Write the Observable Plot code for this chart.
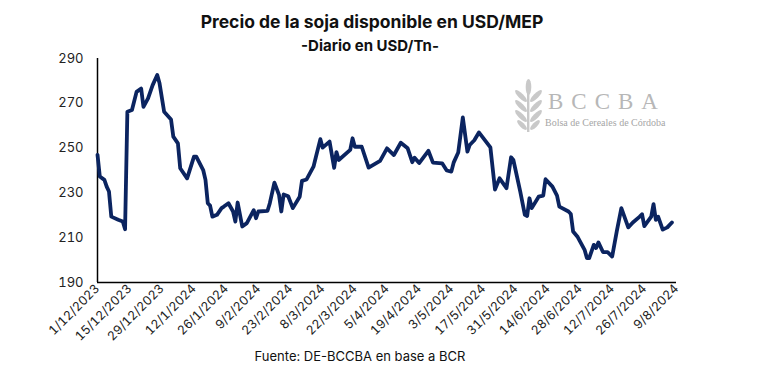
<!DOCTYPE html>
<html>
<head>
<meta charset="utf-8">
<script src="https://cdn.jsdelivr.net/npm/d3@7"></script>
<script src="https://cdn.jsdelivr.net/npm/@observablehq/plot@0.6"></script>
<style>
  html, body { margin: 0; padding: 0; background: #fff; }
  #wrap { position: relative; width: 762px; height: 380px; overflow: hidden; font-family: "Inter", "Roboto", sans-serif; color: #111; }
  #title { position: absolute; left: 0; top: 11px; width: 744px; text-align: center; font-weight: 700; font-size: 17.5px; }
  #subtitle { position: absolute; left: 0; top: 36px; width: 740px; text-align: center; font-weight: 700; font-size: 15px; }
  #chart { position: absolute; left: 0; top: 50px; }
  #caption { position: absolute; left: 0; top: 348px; width: 720px; text-align: center; font-size: 13px; }
  #logo { position: absolute; left: 0; top: 0; pointer-events: none; }
</style>
</head>
<body>
<div id="wrap">
  <div id="title">Precio de la soja disponible en USD/MEP</div>
  <div id="subtitle">-Diario en USD/Tn-</div>
  <div id="chart"></div>
  <div id="caption">Fuente: DE-BCCBA en base a BCR</div>
  <svg id="logo" width="762" height="380">
    <g fill="#c9c9c9">
      <rect x="527" y="84" width="2.4" height="48"/>
      <ellipse cx="528.5" cy="87" rx="2.8" ry="8"/>
      <ellipse cx="521" cy="96" rx="2.6" ry="8" transform="rotate(-45 521 96)"/>
      <ellipse cx="536" cy="96" rx="2.6" ry="8" transform="rotate(45 536 96)"/>
      <ellipse cx="521" cy="106" rx="2.6" ry="8" transform="rotate(-45 521 106)"/>
      <ellipse cx="536" cy="106" rx="2.6" ry="8" transform="rotate(45 536 106)"/>
      <ellipse cx="521" cy="116" rx="2.6" ry="8" transform="rotate(-45 521 116)"/>
      <ellipse cx="536" cy="116" rx="2.6" ry="8" transform="rotate(45 536 116)"/>
      <ellipse cx="522" cy="125" rx="2.3" ry="6.5" transform="rotate(-45 522 125)"/>
      <ellipse cx="535" cy="125" rx="2.3" ry="6.5" transform="rotate(45 535 125)"/>
    </g>
    <text x="548" y="109" font-family="Liberation Serif, DejaVu Serif, serif" font-size="23" letter-spacing="8" fill="#b7b7b7">BCCBA</text>
    <text x="545" y="126" font-family="Liberation Serif, DejaVu Serif, serif" font-size="10" fill="#a6a6a6">Bolsa de Cereales de Córdoba</text>
  </svg>
</div>
<script>
// ---- Data ----
const dates = [
  "2023-12-01","2023-12-02","2023-12-04","2023-12-05","2023-12-06","2023-12-07","2023-12-10","2023-12-12","2023-12-13","2023-12-14",
  "2023-12-16","2023-12-18","2023-12-20","2023-12-21","2023-12-23","2023-12-25","2023-12-27","2023-12-28","2023-12-30","2024-01-02",
  "2024-01-03","2024-01-05","2024-01-06","2024-01-09","2024-01-12","2024-01-13","2024-01-16","2024-01-17","2024-01-18","2024-01-19",
  "2024-01-20","2024-01-22","2024-01-24","2024-01-25","2024-01-27","2024-01-29","2024-01-30","2024-01-31","2024-02-02","2024-02-04",
  "2024-02-07","2024-02-08","2024-02-09","2024-02-13","2024-02-14","2024-02-16","2024-02-18","2024-02-19","2024-02-20","2024-02-22",
  "2024-02-24","2024-02-27","2024-02-28","2024-03-01","2024-03-04","2024-03-05","2024-03-07","2024-03-08","2024-03-11","2024-03-13",
  "2024-03-14","2024-03-15","2024-03-20","2024-03-21","2024-03-22","2024-03-25","2024-03-28","2024-04-02","2024-04-05","2024-04-08",
  "2024-04-11","2024-04-14","2024-04-16","2024-04-17","2024-04-19","2024-04-23","2024-04-25","2024-04-29","2024-05-01","2024-05-03",
  "2024-05-04","2024-05-06","2024-05-08","2024-05-10","2024-05-11","2024-05-13","2024-05-15","2024-05-18","2024-05-20","2024-05-22",
  "2024-05-24","2024-05-27","2024-05-29","2024-05-30","2024-06-02","2024-06-04","2024-06-05","2024-06-06","2024-06-07","2024-06-10",
  "2024-06-12","2024-06-13","2024-06-16","2024-06-18","2024-06-19","2024-06-23","2024-06-24","2024-06-25","2024-06-27","2024-06-30",
  "2024-07-01","2024-07-02","2024-07-04","2024-07-05","2024-07-06","2024-07-08","2024-07-10","2024-07-12","2024-07-14","2024-07-16",
  "2024-07-19","2024-07-21","2024-07-24","2024-07-25","2024-07-26","2024-07-29","2024-07-30","2024-07-31","2024-08-01","2024-08-03",
  "2024-08-05","2024-08-07"
];
const prices = [
  247,237.3,235.8,232.8,230.6,219.4,218,217.2,213.8,266.2,
  267,275.1,276.6,268.4,272.2,278.1,282.6,278.9,266.2,262.8,
  255.1,252.1,241,236.5,246.2,246.2,240.2,235.8,225.4,224.3,
  219.4,220.2,223.2,223.9,225.4,221.7,217.2,225.7,215,216.5,
  222.3,218.7,221.7,222,225.4,234.6,229.1,221.7,229.3,228.5,
  223.2,228.3,235.4,236,241.7,245.8,254,250.2,252.9,241.2,
  248.2,244.7,249.2,254.4,250.6,250.6,241.3,244.3,249.9,246.9,
  252.4,249.9,243.7,245.7,243.3,248.8,243.5,243.2,240,239.5,
  243.5,248,263.7,248.4,251.4,253.5,257,253,250.3,231.5,
  236.5,232.1,245.9,244.7,230.6,220.2,219.7,227.6,223.2,228.3,
  228.8,236.1,232.8,228.8,223.9,221.7,220.6,212.8,210.3,204.6,
  200.9,200.9,206.8,205.4,207.9,203.6,203.6,201.6,212.8,223.2,
  214.6,216.8,219.4,220.5,215.2,219.4,225,218,219.4,213.6,
  214.6,216.8
];
const xTicks = [
  "2023-12-01","2023-12-15","2023-12-29","2024-01-12","2024-01-26","2024-02-09","2024-02-23","2024-03-08","2024-03-22","2024-04-05",
  "2024-04-19","2024-05-03","2024-05-17","2024-05-31","2024-06-14","2024-06-28","2024-07-12","2024-07-26","2024-08-09"
];
const yTicks = [190, 210, 230, 250, 270, 290];
const xDomain = ["2023-12-01", "2024-08-09"];

// ---- Build table ----
const table = dates.map((d, i) => ({date: new Date(d), price: prices[i]}));
const fmt = d => `${d.getUTCDate()}/${d.getUTCMonth() + 1}/${d.getUTCFullYear()}`;
const domainDates = xDomain.map(d => new Date(d));

const chart = Plot.plot({
  width: 762,
  height: 300,
  marginLeft: 97,
  marginRight: 86,
  marginTop: 8,
  marginBottom: 68,
  style: {fontFamily: "Inter, Roboto, sans-serif", fontSize: "12.5px", color: "#222", background: "transparent", overflow: "visible"},
  x: {type: "utc", domain: domainDates},
  y: {domain: [yTicks[0], yTicks[yTicks.length - 1]]},
  marks: [
    Plot.axisY({ticks: yTicks, tickSize: 0, tickPadding: 14, fontSize: 13, label: null}),
    Plot.axisX({ticks: xTicks.map(d => new Date(d)), tickFormat: fmt, tickSize: 0, tickRotate: -45, tickPadding: 4, fontSize: 12.5, label: null}),
    Plot.ruleY([yTicks[0]], {stroke: "#000", strokeWidth: 1.5}),
    Plot.ruleX([domainDates[0]], {stroke: "#000", strokeWidth: 1.5}),
    Plot.lineY(table, {x: "date", y: "price", stroke: "#0b2460", strokeWidth: 3.8, strokeLinejoin: "round", strokeLinecap: "round"})
  ]
});
document.getElementById("chart").appendChild(chart);
</script>
</body>
</html>
